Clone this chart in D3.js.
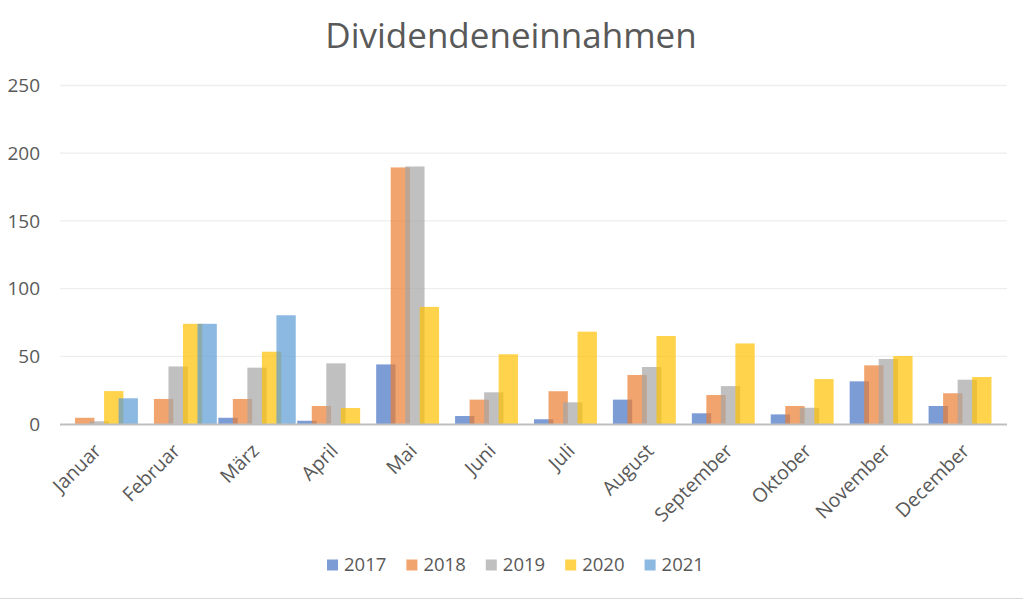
<!DOCTYPE html>
<html><head><meta charset="utf-8">
<script src="https://cdn.jsdelivr.net/npm/d3@7"></script>
<style>body{margin:0;background:#fff}svg{display:block}</style>
</head><body>
<svg id="c" width="1023" height="601"></svg>
<script>
const months = ["Januar","Februar","März","April","Mai","Juni","Juli","August","September","Oktober","November","December"];
const years = ["2017","2018","2019","2020","2021"];
const v2017 = [0, 0, 4.6, 2.4, 44, 5.9, 3.5, 18, 7.9, 7.1, 31.5, 13.3];
const v2018 = [4.6, 18.5, 18.5, 13.3, 189.5, 18, 24.2, 36.2, 21.4, 13.3, 43.3, 22.7];
const v2019 = [2, 42.5, 41.6, 44.8, 190.2, 23.4, 16, 42.1, 28, 12, 48, 32.7];
const v2020 = [24.3, 74, 53.4, 11.8, 86.5, 51.5, 68.2, 65, 59.5, 33.2, 50.2, 34.7];
const v2021 = [19, 74, 80.3, 0, 0, 0, 0, 0, 0, 0, 0, 0];
const yTicks = [0, 50, 100, 150, 200, 250];
const colors = ["#4472C4","#ED7D31","#A5A5A5","#FFC000","#5B9BD5"];
const series = [v2017, v2018, v2019, v2020, v2021];

const svg = d3.select("#c");
const font = "'Open Sans', sans-serif";
const pLeft = 60, pRight = 1007, pTop = 85.5, pBottom = 424;
const x = d3.scaleBand().domain(months).range([pLeft, pRight]).paddingInner(0).paddingOuter(0);
const y = d3.scaleLinear().domain([0, 250]).range([pBottom, pTop]);

// gridlines
svg.append("g").selectAll("line").data(yTicks.filter(d => d > 0)).join("line")
  .attr("x1", pLeft).attr("x2", pRight)
  .attr("y1", d => y(d)).attr("y2", d => y(d))
  .attr("stroke", "#EEEEEE").attr("stroke-width", 1.3);

// y labels
svg.append("g").selectAll("text").data(yTicks).join("text")
  .attr("x", 40).attr("y", d => y(d)).attr("dy", "0.35em")
  .attr("text-anchor", "end").attr("font-family", font).attr("font-size", 19)
  .attr("fill", "#595959").text(d => d);

// bars
const C = x.bandwidth();
const bw = C * 0.245, step = C * 0.184;
years.forEach((yr, i) => {
  svg.append("g").selectAll("rect").data(series[i].map((v, j) => ({m: months[j], v}))).join("rect")
    .attr("x", d => x(d.m) + i * step + 0.5)
    .attr("y", d => y(d.v))
    .attr("width", bw)
    .attr("height", d => pBottom - y(d.v))
    .attr("fill", colors[i]).attr("fill-opacity", 0.7);
});

// baseline
svg.append("line").attr("x1", pLeft).attr("x2", pRight).attr("y1", pBottom + 0.5).attr("y2", pBottom + 0.5)
  .attr("stroke", "#BFBFBF").attr("stroke-width", 2);

// x labels
svg.append("g").selectAll("text").data(months).join("text")
  .attr("transform", d => `translate(${x(d) + C / 2 + 3},${pBottom + 28}) rotate(-45)`)
  .attr("text-anchor", "end").attr("font-family", font).attr("font-size", 19.5)
  .attr("fill", "#595959").text(d => d);

// title
svg.append("text").attr("x", 511).attr("y", 48).attr("text-anchor", "middle")
  .attr("font-family", font).attr("font-size", 35).attr("fill", "#595959").text("Dividendeneinnahmen");

// legend
const lg = svg.append("g").selectAll("g").data(years).join("g")
  .attr("transform", (d, i) => `translate(${327 + i * 79.4},565)`);
lg.append("rect").attr("x", 0).attr("y", -5.5).attr("width", 11).attr("height", 11)
  .attr("fill", (d, i) => colors[i]).attr("fill-opacity", 0.7);
lg.append("text").attr("x", 17).attr("y", 0).attr("dy", "0.35em").attr("font-family", font)
  .attr("font-size", 18.5).attr("fill", "#595959").text(d => d);

// bottom border
svg.append("line").attr("x1", 0).attr("x2", 1023).attr("y1", 598.5).attr("y2", 598.5)
  .attr("stroke", "#D9D9D9").attr("stroke-width", 1);
</script>
</body></html>
